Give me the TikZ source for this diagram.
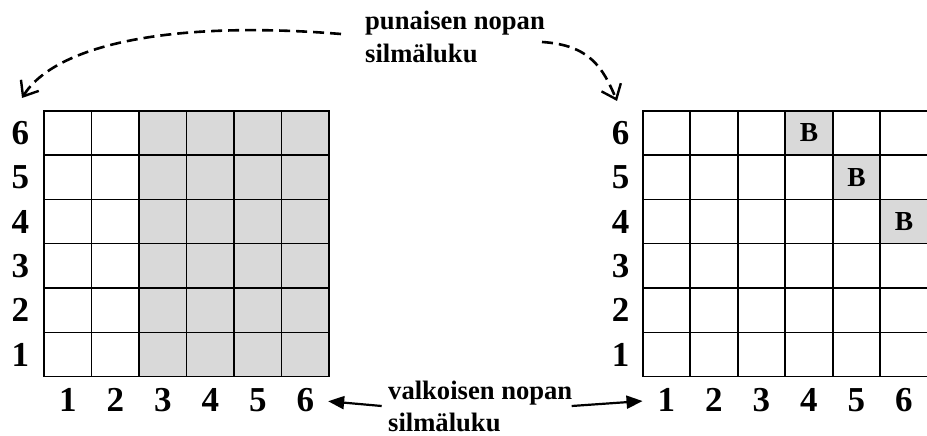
\documentclass[tikz,border=0pt]{standalone}
\usepackage{fontspec}
\setmainfont{Liberation Serif}
\usetikzlibrary{arrows.meta}
\definecolor{shadegray}{HTML}{D9D9D9}
\begin{document}
\begin{tikzpicture}[x=1pt,y=-1pt,
  cell/.style={draw,line width=1.6pt,minimum width=47.5pt,minimum height=44.33pt,inner sep=0pt,outer sep=0pt,font=\fontsize{27.5}{27.5}\selectfont\bfseries},
  shaded/.style={fill=shadegray},
  axislabel/.style={inner sep=0pt,font=\fontsize{35}{35}\selectfont\bfseries},
  caption/.style={inner sep=0pt,anchor=base west,font=\fontsize{26.6}{33}\selectfont\bfseries},
  dashedarrow/.style={dash pattern=on 11pt off 6pt,line width=2.6pt,-{Straight Barb[length=13pt,width=21pt,line width=2.4pt]}},
  solidarrow/.style={line width=2.2pt,-{Triangle[length=16pt,width=13pt]}}]
\useasboundingbox (0,0) rectangle (927,436);
% left grid
\foreach \i in {1,...,6}{
  \foreach \j in {1,...,6}{
    \ifnum\i>2
      \node[cell,shaded] (L-\i-\j) at ({44+(\i-0.5)*47.5},{110.7+(6.5-\j)*44.33}) {};
    \else
      \node[cell] (L-\i-\j) at ({44+(\i-0.5)*47.5},{110.7+(6.5-\j)*44.33}) {};
    \fi
  }
}
% right grid
\foreach \i in {1,...,6}{
  \foreach \j in {1,...,6}{
    \node[cell] (R-\i-\j) at ({642.7+(\i-0.5)*47.5},{110.7+(6.5-\j)*44.33}) {};
  }
}
\node[cell,shaded] (R-4-6b) at ({642.7+3.5*47.5},{110.7+0.5*44.33}) {B};
\node[cell,shaded] (R-5-5b) at ({642.7+4.5*47.5},{110.7+1.5*44.33}) {B};
\node[cell,shaded] (R-6-4b) at ({642.7+5.5*47.5},{110.7+2.5*44.33}) {B};
% axis labels
\foreach \k in {1,...,6}{
  \node[axislabel] (Lr\k) at (20.5,{110.7+(6.5-\k)*44.33}) {\k};
  \node[axislabel] (Rr\k) at (620.5,{110.7+(6.5-\k)*44.33}) {\k};
  \node[axislabel] (Lc\k) at ({44+(\k-0.5)*47.5},400) {\k};
  \node[axislabel] (Rc\k) at ({642.7+(\k-0.5)*47.5},400) {\k};
}
% captions
\node[caption] (red1) at (365,30) {punaisen nopan};
\node[caption] (red2) at (365,63) {silmäluku};
\node[caption] (white1) at (388,399.3) {valkoisen nopan};
\node[caption] (white2) at (388,431.7) {silmäluku};
% dashed arrows
\coordinate (rs1) at (341,34);
\coordinate (lt) at (22,98);
\coordinate (rs2) at (542,42);
\coordinate (rt) at (617,101);
\draw[dashedarrow] (rs1) .. controls (170,20) and (55,45) .. (lt);
\draw[dashedarrow] (rs2) .. controls (590,45) and (603,68) .. (rt);
% solid arrows
\coordinate (vl) at (381.7,406);
\coordinate (vr) at (571.7,406);
\draw[solidarrow,shorten >=14pt] (vl) -- (Lc6.east);
\draw[solidarrow,shorten >=15pt] (vr) -- (Rc1.west);
\end{tikzpicture}
\end{document}
